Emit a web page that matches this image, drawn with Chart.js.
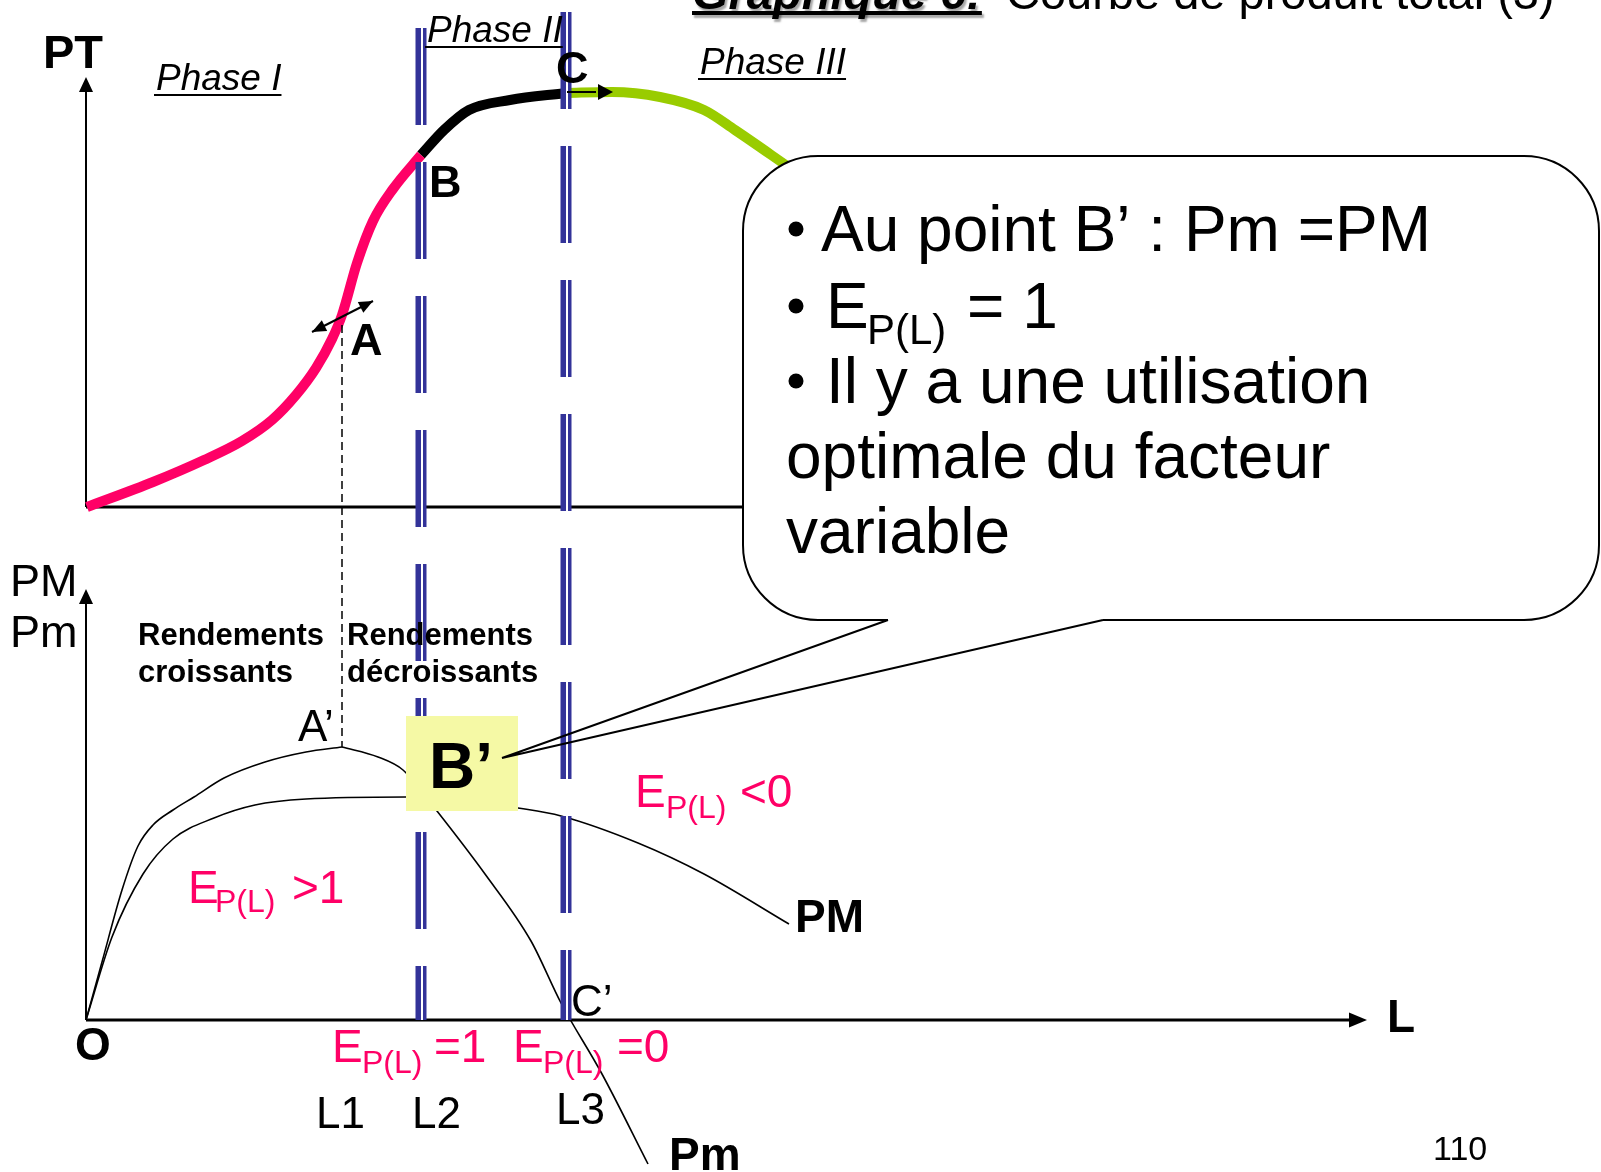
<!DOCTYPE html>
<html>
<head>
<meta charset="utf-8">
<script src="https://cdn.jsdelivr.net/npm/chart.js@4.4.1/dist/chart.umd.min.js"></script>
<style>
  html, body { margin: 0; padding: 0; background: #fff; overflow: hidden; }
  #wrap { width: 1601px; height: 1172px; position: relative; }
</style>
</head>
<body>
<div id="wrap"><canvas id="chart_phasesProduction"></canvas></div>
<script>
// Produit total (PT), top panel
var ptPinkX  = [0.1, 6.7, 11.8, 15.6, 18.6, 21.0, 23.0, 24.6, 25.6, 27.1, 28.7, 30.7, 33.5];
var ptPinkY  = [0.0, 2.5, 4.7, 6.6, 8.7, 11.2, 13.9, 16.8, 19.2, 24.4, 28.6, 31.8, 35.2];
var ptBlackX = [33.5, 35.8, 38.3, 42.4, 48.0];
var ptBlackY = [35.2, 37.7, 39.7, 40.7, 41.4];
var ptGreenX = [48.0, 52.6, 57.4, 61.8, 64.9, 70.4];
var ptGreenY = [41.4, 41.5, 41.0, 39.7, 37.7, 33.9];

// Produit marginal (Pm) and produit moyen (PM), bottom panel
var pmX = [0, 1.6, 3.6, 5.2, 6.7, 8.7, 10.8, 13.8, 17.9, 22.0, 25.6, 29.2, 31.7, 33.4, 35.1, 39.9, 44.5, 47.5, 51.6, 56.2];
var pmY = [0, 5.8, 13.0, 17.4, 19.5, 21.0, 22.3, 24.2, 25.8, 26.8, 27.3, 26.3, 25.0, 23.0, 20.9, 14.6, 7.9, 1.7, -5.4, -14.4];
var avX = [0, 2.6, 5.7, 8.7, 12.8, 16.9, 22.0, 32.0, 37.4, 43.2, 47.5, 55.2, 61.8, 70.3];
var avY = [0, 8.3, 14.6, 18.1, 20.2, 21.5, 22.1, 22.3, 22.0, 21.2, 20.4, 17.7, 14.6, 9.6];

// labour levels L1, L2, L3
var lLevels = [25.6, 33.5, 48.0];
var lNames  = ['L1', 'L2', 'L3'];

var calloutLines = ['Au point B\u2019 : Pm =PM', '', 'Il y a une utilisation', 'optimale du facteur', 'variable'];

function pts(xs, ys) {
    return xs.map(function (x, i) { return { x: x, y: ys[i] }; });
}
var peak = pmY.indexOf(Math.max.apply(null, pmY));

var FONT = '"Liberation Sans", Arial, sans-serif';

var diagram = {
    id: 'diagram',
    beforeDatasetsDraw: function (chart) {
        var ctx = chart.ctx;
        var X = function (v) { return chart.scales.x.getPixelForValue(v); };
        var YT = function (v) { return chart.scales.yTop.getPixelForValue(v); };
        var YB = function (v) { return chart.scales.yBot.getPixelForValue(v); };
        ctx.save();
        ctx.fillStyle = '#fff';
        ctx.fillRect(0, 0, chart.width, chart.height);
        ctx.strokeStyle = '#000';
        ctx.fillStyle = '#000';
        // top panel axes
        ctx.lineWidth = 2;
        ctx.beginPath(); ctx.moveTo(X(0), YT(0)); ctx.lineTo(X(0), YT(42)); ctx.stroke();
        arrowHead(ctx, X(0), YT(0), X(0), YT(43), 15, 7);
        ctx.lineWidth = 3;
        ctx.beginPath(); ctx.moveTo(X(0), YT(0)); ctx.lineTo(X(70), YT(0)); ctx.stroke();
        // bottom panel axes
        ctx.lineWidth = 2;
        ctx.beginPath(); ctx.moveTo(X(0), YB(0)); ctx.lineTo(X(0), YB(42)); ctx.stroke();
        arrowHead(ctx, X(0), YB(0), X(0), YB(43.1), 15, 7);
        ctx.lineWidth = 3;
        ctx.beginPath(); ctx.moveTo(X(0), YB(0)); ctx.lineTo(X(127), YB(0)); ctx.stroke();
        arrowHead(ctx, X(0), YB(0), X(128.1), YB(0), 18, 7.5);
        ctx.restore();
    },
    afterDatasetsDraw: function (chart) {
        var ctx = chart.ctx;
        var X = function (v) { return chart.scales.x.getPixelForValue(v); };
        var YT = function (v) { return chart.scales.yTop.getPixelForValue(v); };
        var YB = function (v) { return chart.scales.yBot.getPixelForValue(v); };
        ctx.save();

        // phase boundaries (double blue dashed lines)
        [[lLevels[1], 47.9], [lLevels[2], 49.5]].forEach(function (l) {
            var x = X(l[0]);
            ctx.setLineDash([97, 37]);
            ctx.strokeStyle = '#333399'; ctx.lineWidth = 11;
            ctx.beginPath(); ctx.moveTo(x, YT(l[1])); ctx.lineTo(x, YB(0)); ctx.stroke();
            ctx.strokeStyle = '#fff'; ctx.lineWidth = 2;
            ctx.beginPath(); ctx.moveTo(x + 1, YT(l[1])); ctx.lineTo(x + 1, YB(0)); ctx.stroke();
        });

        // A -> A' dashed connector
        ctx.setLineDash([8, 5]);
        ctx.strokeStyle = '#000'; ctx.lineWidth = 1.5;
        ctx.beginPath();
        ctx.moveTo(X(lLevels[0]), YT(ptPinkY[8]) + 10);
        ctx.lineTo(X(lLevels[0]), YB(pmY[peak]));
        ctx.stroke();
        ctx.setLineDash([]);

        // tangent arrow at A, arrow at C
        ctx.fillStyle = '#000'; ctx.lineWidth = 2;
        ctx.beginPath(); ctx.moveTo(X(22.6), YT(17.5)); ctx.lineTo(X(28.7), YT(20.6)); ctx.stroke();
        arrowHead(ctx, X(25.6), YT(19.0), X(28.7), YT(20.6), 14, 6);
        arrowHead(ctx, X(25.6), YT(19.0), X(22.6), YT(17.5), 14, 6);
        ctx.beginPath(); ctx.moveTo(X(48.1), YT(41.5)); ctx.lineTo(X(51), YT(41.5)); ctx.stroke();
        arrowHead(ctx, X(48.1), YT(41.5), X(52.7), YT(41.5), 15, 8);

        // callout
        var bx0 = X(65.7), by0 = YT(35.1), bx1 = X(151.3), by1 = YT(-11.3);
        ctx.fillStyle = '#fff'; ctx.strokeStyle = '#000'; ctx.lineWidth = 2;
        ctx.beginPath(); ctx.roundRect(bx0, by0, bx1 - bx0, by1 - by0, 75); ctx.fill(); ctx.stroke();
        ctx.strokeStyle = '#fff'; ctx.lineWidth = 4;
        ctx.beginPath(); ctx.moveTo(X(80.2), by1); ctx.lineTo(X(101.7), by1); ctx.stroke();

        // B' box
        ctx.fillStyle = '#f5f9a5';
        ctx.fillRect(X(32.0), YB(30.4), X(43.2) - X(32.0), YB(20.9) - YB(30.4));

        // callout pointer
        ctx.strokeStyle = '#000'; ctx.lineWidth = 2;
        ctx.beginPath();
        ctx.moveTo(X(80.2), by1); ctx.lineTo(X(41.6), YB(26.2)); ctx.lineTo(X(101.7), by1);
        ctx.stroke();

        // texts
        ctx.textBaseline = 'alphabetic';
        ctx.textAlign = 'left';
        ctx.fillStyle = '#000';

        // title (cut at top edge)
        ctx.save();
        ctx.font = 'italic bold 47px ' + FONT;
        ctx.shadowColor = 'rgba(0,0,0,0.35)'; ctx.shadowOffsetX = 2; ctx.shadowOffsetY = 3; ctx.shadowBlur = 2;
        ctx.fillText('Graphique 6:', X(60.6), YT(49.8));
        var tw = ctx.measureText('Graphique 6:').width;
        ctx.fillRect(X(60.6), YT(49.8) + 2, tw, 4);
        ctx.restore();
        ctx.font = '47px ' + FONT;
        ctx.fillText('Courbe de produit total (3)', X(92.0), YT(49.8));

        ctx.font = 'bold 47px ' + FONT;
        ctx.fillText('PT', X(-4.3), YT(43.9));

        underlined(ctx, 'Phase I', X(7.0), YT(41.7), 'italic 37px ' + FONT);
        underlined(ctx, 'Phase II', X(34.1), YT(46.5), 'italic 37px ' + FONT);
        underlined(ctx, 'Phase III', X(61.4), YT(43.3), 'italic 37px ' + FONT);

        ctx.font = 'bold 45px ' + FONT;
        ctx.fillText('A', X(26.4), YT(15.2));
        ctx.fillText('B', X(34.3), YT(31.0));
        ctx.fillText('C', X(47.0), YT(42.4));

        // callout text
        ctx.font = '64px ' + FONT;
        ctx.fillText(calloutLines[0], X(73.5), YT(25.6));
        ctx.fillText(calloutLines[2], X(74.0), YT(10.4));
        ctx.fillText(calloutLines[3], X(70.0), YT(2.9));
        ctx.fillText(calloutLines[4], X(70.0), YT(-4.6));
        elast(ctx, X(74.0), YT(17.9), '= 1', 64, 42, 41, 16, 141, '#000');
        [25.6, 17.9, 10.4].forEach(function (b) {
            ctx.beginPath(); ctx.arc(X(71.0), YT(b) - 22, 7.5, 0, Math.PI * 2); ctx.fill();
        });

        // bottom panel labels
        ctx.font = '45px ' + FONT;
        ctx.fillText('PM', X(-7.6), YB(42.4));
        ctx.fillText('Pm', X(-7.6), YB(37.3));
        ctx.font = 'bold 31px ' + FONT;
        ctx.fillText('Rendements', X(5.2), YB(37.5));
        ctx.fillText('croissants', X(5.2), YB(33.8));
        ctx.fillText('Rendements', X(26.1), YB(37.5));
        ctx.fillText('d\u00e9croissants', X(26.1), YB(33.8));

        ctx.font = '44px ' + FONT;
        ctx.fillText('A\u2019', X(21.2), YB(27.9));
        ctx.fillText('C\u2019', X(48.5), YB(0.4));
        ctx.font = 'bold 64px ' + FONT;
        ctx.fillText('B\u2019', X(34.3), YB(23.2));

        elast(ctx, X(10.2), YB(11.7), '>1', 46, 32, 27, 9, 104, '#ff0066');
        elast(ctx, X(54.9), YB(21.3), '<0', 46, 32, 31, 11, 105, '#ff0066');
        elast(ctx, X(24.6), YB(-4.2), '=1', 46, 32, 30, 11, 102, '#ff0066');
        elast(ctx, X(42.7), YB(-4.2), '=0', 46, 32, 30, 11, 104, '#ff0066');

        ctx.fillStyle = '#000';
        ctx.font = '44px ' + FONT;
        ctx.fillText(lNames[0], X(23.0), YB(-10.8));
        ctx.fillText(lNames[1], X(32.6), YB(-10.8));
        ctx.fillText(lNames[2], X(47.0), YB(-10.4));

        ctx.font = 'bold 46px ' + FONT;
        ctx.fillText('O', X(-1.1), YB(-4.0));
        ctx.fillText('PM', X(70.9), YB(8.8));
        ctx.fillText('Pm', X(58.3), YB(-15.0));
        ctx.fillText('L', X(130.1), YB(-1.2));

        ctx.font = '34px ' + FONT;
        ctx.fillText('110', X(134.7), YB(-14.0));

        ctx.restore();
    }
};

function arrowHead(ctx, x0, y0, x1, y1, len, half) {
    var a = Math.atan2(y1 - y0, x1 - x0);
    ctx.beginPath();
    ctx.moveTo(x1, y1);
    ctx.lineTo(x1 - len * Math.cos(a) + half * Math.sin(a), y1 - len * Math.sin(a) - half * Math.cos(a));
    ctx.lineTo(x1 - len * Math.cos(a) - half * Math.sin(a), y1 - len * Math.sin(a) + half * Math.cos(a));
    ctx.closePath();
    ctx.fill();
}

function underlined(ctx, s, x, y, font) {
    ctx.font = font;
    ctx.fillText(s, x, y);
    var w = ctx.measureText(s).width;
    ctx.fillRect(x - 2, y + 4, w + 2, 2);
}

function elast(ctx, x, y, rest, big, sub, subDx, subDy, restDx, color) {
    ctx.fillStyle = color;
    ctx.font = big + 'px ' + FONT;
    ctx.fillText('E', x, y);
    ctx.font = sub + 'px ' + FONT;
    ctx.fillText('P(L)', x + subDx, y + subDy);
    ctx.font = big + 'px ' + FONT;
    ctx.fillText(rest, x + restDx, y);
    ctx.fillStyle = '#000';
}

function curve(label, xs, ys, color, width, axis) {
    return {
        label: label,
        data: pts(xs, ys),
        yAxisID: axis,
        showLine: true,
        borderColor: color,
        borderWidth: width,
        pointRadius: 0,
        cubicInterpolationMode: 'monotone',
        borderJoinStyle: 'round',
        fill: false
    };
}

var chart_phasesProduction = new Chart(document.getElementById('chart_phasesProduction'), {
    type: 'scatter',
    data: {
        datasets: [
            curve('PT phase I', ptPinkX, ptPinkY, '#ff0066', 10, 'yTop'),
            curve('PT phase II', ptBlackX, ptBlackY, '#000000', 10, 'yTop'),
            curve('PT phase III', ptGreenX, ptGreenY, '#99cc00', 10, 'yTop'),
            curve('Pm', pmX.slice(0, peak + 1), pmY.slice(0, peak + 1), '#000000', 1.6, 'yBot'),
            curve('Pm', pmX.slice(peak), pmY.slice(peak), '#000000', 1.6, 'yBot'),
            curve('PM', avX, avY, '#000000', 1.6, 'yBot')
        ]
    },
    options: {
        animation: false,
        responsive: true,
        maintainAspectRatio: false,
        events: [],
        layout: { padding: 0 },
        plugins: {
            legend: { display: false },
            tooltip: { enabled: false }
        },
        scales: {
            x: { type: 'linear', min: -8.6, max: 151.5, display: false },
            yTop: { type: 'linear', position: 'left', min: -66.5, max: 50.7, display: false },
            yBot: { type: 'linear', position: 'left', min: -15.2, max: 102, display: false }
        }
    },
    plugins: [diagram]
});
</script>
</body>
</html>
